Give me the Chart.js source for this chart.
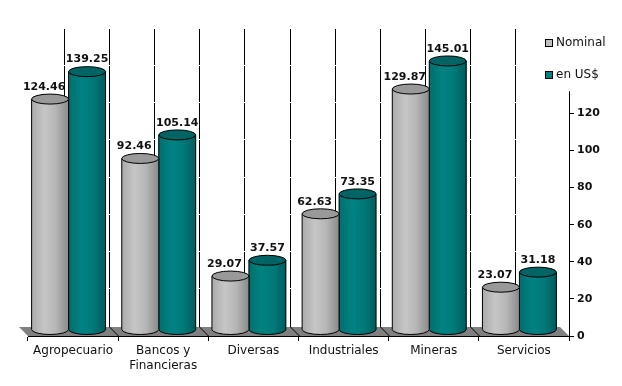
<!DOCTYPE html>
<html>
<head>
<meta charset="utf-8">
<script src="https://cdn.jsdelivr.net/npm/chart.js@4"></script>
<style>
    html, body { margin: 0; padding: 0; background: #fff; }
    canvas { display: block; }
</style>
</head>
<body>
<canvas id="bar-chart-canvas" width="622" height="386"></canvas>
<script>
const categories = ['Agropecuario', ['Bancos y', 'Financieras'], 'Diversas', 'Industriales', 'Mineras', 'Servicios'];
const nominal = [124.46, 92.46, 29.07, 62.63, 129.87, 23.07];
const enUsd = [139.25, 105.14, 37.57, 73.35, 145.01, 31.18];
const yTicks = [0, 20, 40, 60, 80, 100, 120];
const seriesNames = ['Nominal', 'en US$'];

const FONT = '"DejaVu Sans", Verdana, sans-serif';
const labelFont = 'bold 11px ' + FONT;
const textColor = '#111';

// how the bars sit inside the fake 3D floor
const depthX = 9, depthY = 9;
const barShiftX = -4.5, barShiftY = -6;
const capRy = 5;

const seriesLook = [
    { swatch: '#c0c0c0', cap: '#999999', stops: ['#ababab', '#c6c6c6', '#b6b6b6', '#8a8a8a'], labelShift: -6 },
    { swatch: '#008080', cap: '#006464', stops: ['#006e6e', '#008282', '#007a7a', '#005c5c'], labelShift: 0 }
];

let drawCylinder = (ctx, bar, look) => {
    const left = bar.x - bar.width / 2;
    const right = bar.x + bar.width / 2;
    const rx = bar.width / 2;

    const gradient = ctx.createLinearGradient(left, 0, right, 0);
    gradient.addColorStop(0, look.stops[0]);
    gradient.addColorStop(0.35, look.stops[1]);
    gradient.addColorStop(0.65, look.stops[2]);
    gradient.addColorStop(1, look.stops[3]);

    ctx.beginPath();
    ctx.moveTo(left, bar.y);
    ctx.lineTo(left, bar.base);
    ctx.ellipse(bar.x, bar.base, rx, capRy, 0, Math.PI, 0, true);
    ctx.lineTo(right, bar.y);
    ctx.closePath();
    ctx.fillStyle = gradient;
    ctx.fill();
    ctx.strokeStyle = '#000';
    ctx.lineWidth = 1;
    ctx.stroke();

    ctx.beginPath();
    ctx.ellipse(bar.x, bar.y, rx, capRy, 0, 0, Math.PI * 2);
    ctx.fillStyle = look.cap;
    ctx.fill();
    ctx.stroke();
};

const cylinderPlugin = {
    id: 'cylinders',
    beforeDatasetsDraw(chart) {
        // floor and back wall lines go under the bars
        const { ctx, chartArea, scales } = chart;
        const x = scales.x, y = scales.y;
        const floorY = y.getPixelForValue(0);
        const halfStep = (x.getPixelForValue(1) - x.getPixelForValue(0)) / 2;

        ctx.save();
        ctx.beginPath();
        ctx.moveTo(chartArea.left, floorY);
        ctx.lineTo(chartArea.right, floorY);
        ctx.lineTo(chartArea.right - depthX, floorY - depthY);
        ctx.lineTo(chartArea.left - depthX, floorY - depthY);
        ctx.closePath();
        ctx.fillStyle = '#808080';
        ctx.fill();

        ctx.strokeStyle = '#000';
        ctx.lineWidth = 1;
        categories.forEach((c, i) => {
            const centre = x.getPixelForValue(i);
            [centre, centre + halfStep].forEach((px, k) => {
                if (i == categories.length - 1 && k == 1) return;
                const backX = Math.round(px - depthX) + 0.5;
                ctx.beginPath();
                ctx.moveTo(backX, chartArea.top);
                ctx.lineTo(backX, floorY - depthY);
                ctx.stroke();
                if (k == 1) {
                    ctx.beginPath();
                    ctx.moveTo(backX, floorY - depthY);
                    ctx.lineTo(backX + depthX, floorY);
                    ctx.stroke();
                }
            });
        });

        // white grid lines on the back wall break the black ones
        ctx.strokeStyle = '#fff';
        [20, 40, 60, 80, 100, 120, 140, 160].forEach(v => {
            const py = Math.round(y.getPixelForValue(v) - 11) + 0.5;
            ctx.beginPath();
            ctx.moveTo(chartArea.left - depthX, py);
            ctx.lineTo(chartArea.right - depthX, py);
            ctx.stroke();
        });
        ctx.restore();
    },
    beforeDatasetDraw(chart) {
        chart.ctx.save();
        chart.ctx.translate(barShiftX, barShiftY);
    },
    afterDatasetDraw(chart, args) {
        chart.getDatasetMeta(args.index).data.forEach(bar => {
            drawCylinder(chart.ctx, bar, seriesLook[args.index]);
        });
        chart.ctx.restore();
    },
    afterDatasetsDraw(chart) {
        const { ctx, scales } = chart;

        // y axis line stops well below the top of the plot
        ctx.save();
        ctx.strokeStyle = '#000';
        ctx.lineWidth = 1;
        ctx.beginPath();
        ctx.moveTo(chart.chartArea.right + 0.5, scales.y.getPixelForValue(132));
        ctx.lineTo(chart.chartArea.right + 0.5, scales.y.getPixelForValue(0));
        ctx.stroke();

        // value labels
        ctx.font = labelFont;
        ctx.fillStyle = textColor;
        ctx.textAlign = 'center';
        ctx.textBaseline = 'middle';
        chart.data.datasets.forEach((ds, d) => {
            chart.getDatasetMeta(d).data.forEach((bar, i) => {
                ctx.fillText(ds.data[i].toFixed(2), bar.x + barShiftX + seriesLook[d].labelShift, bar.y + barShiftY - 12);
            });
        });

        // legend
        ctx.font = '12px ' + FONT;
        ctx.textAlign = 'left';
        seriesNames.forEach((name, i) => {
            const top = 39 + i * 32;
            ctx.fillStyle = seriesLook[i].swatch;
            ctx.fillRect(545.5, top + 0.5, 7, 7);
            ctx.strokeRect(545.5, top + 0.5, 7, 7);
            ctx.fillStyle = textColor;
            ctx.fillText(name, 556, top + 4);
        });
        ctx.restore();
    }
};

let barCtx = document.getElementById('bar-chart-canvas').getContext('2d');
let barChart = new Chart(barCtx, {
    type: 'bar',
    data: {
        labels: categories,
        datasets: [
            { label: seriesNames[0], data: nominal, backgroundColor: seriesLook[0].swatch, clip: false },
            { label: seriesNames[1], data: enUsd, backgroundColor: seriesLook[1].swatch, clip: false }
        ]
    },
    options: {
        responsive: false,
        animation: false,
        layout: { padding: { left: 28, top: 28, right: 0, bottom: 0 } },
        categoryPercentage: 0.82,
        barPercentage: 1,
        plugins: {
            legend: { display: false },
            tooltip: { enabled: false }
        },
        scales: {
            x: {
                grid: { offset: true, drawOnChartArea: false, color: '#000', tickLength: 5 },
                border: { color: '#000' },
                ticks: {
                    maxRotation: 0,
                    color: textColor,
                    padding: 3,
                    font: { family: FONT, size: 12, lineHeight: 1.2 }
                },
                afterFit: scale => { scale.height = 50; }
            },
            y: {
                position: 'right',
                min: 0,
                max: 166,
                afterBuildTicks: scale => { scale.ticks = yTicks.map(v => ({ value: v })); },
                grid: { drawOnChartArea: false, color: '#000', tickLength: 5 },
                border: { display: false },
                ticks: {
                    color: textColor,
                    padding: 3,
                    font: { family: FONT, size: 11, weight: 'bold' }
                },
                afterFit: scale => { scale.width = 53; }
            }
        }
    },
    plugins: [cylinderPlugin]
});
</script>
</body>
</html>
